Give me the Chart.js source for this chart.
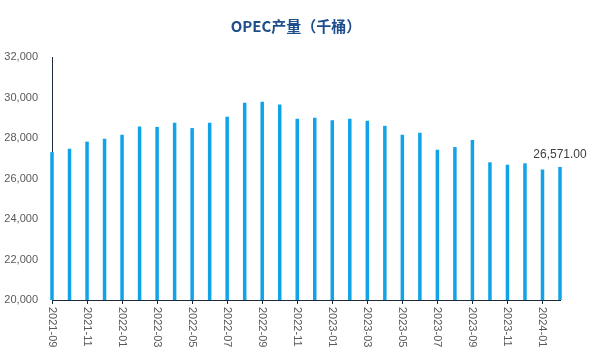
<!DOCTYPE html>
<html>
<head>
<meta charset="utf-8">
<script src="https://cdn.jsdelivr.net/npm/chart.js@4"></script>
<style>
  html, body { margin: 0; padding: 0; background: #fff; }
  #wrap { width: 589px; height: 355px; }
</style>
</head>
<body>
<div id="wrap"><canvas id="graficoOpec"></canvas></div>
<script>
const titulo = 'OPEC产量（千桶）';
const meses = ["2021-09","2021-10","2021-11","2021-12","2022-01","2022-02","2022-03","2022-04","2022-05","2022-06",
  "2022-07","2022-08","2022-09","2022-10","2022-11","2022-12","2023-01","2023-02","2023-03","2023-04",
  "2023-05","2023-06","2023-07","2023-08","2023-09","2023-10","2023-11","2023-12","2024-01","2024-02"];
const produccion = [27300, 27470, 27820, 27960, 28160, 28570, 28550, 28750, 28490, 28750,
  29050, 29740, 29790, 29650, 28950, 29000, 28880, 28950, 28850, 28600,
  28160, 28260, 27420, 27550, 27900, 26800, 26680, 26750, 26440, 26571];
const yTicks = [20000, 22000, 24000, 26000, 28000, 30000, 32000];

const fmt = v => v.toLocaleString('en-US');

// título, etiquetas del eje x giradas (de arriba hacia abajo) y etiqueta del último valor
const extras = {
  id: 'extras',
  afterDraw(chart) {
    const ctx = chart.ctx;
    const x = chart.scales.x;
    const bottom = chart.chartArea.bottom;
    ctx.save();

    ctx.font = 'bold 15px "Noto Sans CJK SC", sans-serif';
    ctx.fillStyle = '#1f4e8c';
    ctx.textAlign = 'center';
    ctx.textBaseline = 'middle';
    ctx.fillText(titulo, 296, 26);

    ctx.font = '11px "Liberation Sans", Arial, sans-serif';
    ctx.fillStyle = '#595959';
    ctx.strokeStyle = '#1f2a38';
    ctx.lineWidth = 1;
    meses.forEach((m, i) => {
      if (i % 2 !== 0) return;
      const px = x.getPixelForValue(i);
      ctx.beginPath();
      ctx.moveTo(Math.round(px) + 0.5, bottom);
      ctx.lineTo(Math.round(px) + 0.5, bottom + 4);
      ctx.stroke();
      ctx.save();
      ctx.translate(px, bottom + 7);
      ctx.rotate(Math.PI / 2);
      ctx.textAlign = 'left';
      ctx.textBaseline = 'middle';
      ctx.fillText(m, 0, 0);
      ctx.restore();
    });

    const meta = chart.getDatasetMeta(0);
    const last = meta.data[meta.data.length - 1];
    ctx.textAlign = 'center';
    ctx.textBaseline = 'bottom';
    ctx.font = '12px "Liberation Sans", Arial, sans-serif';
    ctx.fillStyle = '#404040';
    ctx.fillText(produccion[produccion.length - 1].toLocaleString('en-US', {minimumFractionDigits: 2}), last.x, last.y - 6);
    ctx.restore();
  }
};

new Chart(document.querySelector('#graficoOpec'), {
  type: 'bar',
  data: {
    labels: meses,
    datasets: [{
      data: produccion,
      backgroundColor: '#10a3e8',
      barPercentage: 0.2,
      categoryPercentage: 1,
      base: 20000,
      clip: false
    }]
  },
  options: {
    responsive: true,
    maintainAspectRatio: false,
    animation: false,
    layout: { padding: { left: 0, right: 29, top: 57, bottom: 0 } },
    plugins: {
      legend: { display: false },
      tooltip: { enabled: false },
      title: { display: false }
    },
    scales: {
      x: {
        offset: false,
        grid: { display: false, drawTicks: false },
        border: { color: '#1f2a38', width: 1 },
        ticks: { display: false },
        afterFit(s) { s.height = 55; }
      },
      y: {
        min: 20000,
        max: 32000,
        afterBuildTicks(s) { s.ticks = yTicks.map(v => ({ value: v })); },
        grid: { display: false, drawTicks: false },
        border: { color: '#1f2a38', width: 1 },
        ticks: {
          color: '#595959',
          padding: 14,
          font: { size: 11, family: '"Liberation Sans", Arial, sans-serif' },
          callback: v => fmt(v)
        },
        afterFit(s) { s.width = 52; }
      }
    }
  },
  plugins: [extras]
});
</script>
</body>
</html>
